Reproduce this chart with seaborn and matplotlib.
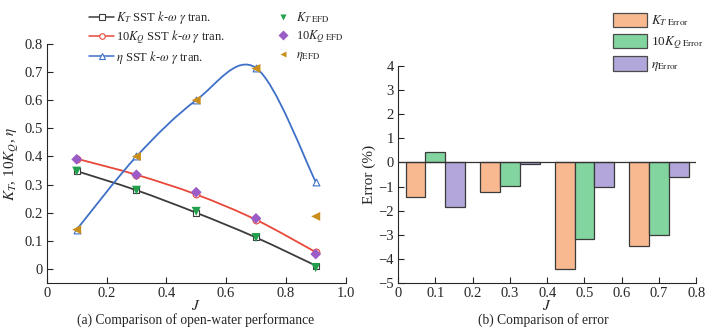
import numpy as np
import pandas as pd
import seaborn as sns
import matplotlib.pyplot as plt
from matplotlib.path import Path
from matplotlib.patches import PathPatch, Patch
from matplotlib.lines import Line2D
from matplotlib.ticker import FuncFormatter

# ---- data ----
J = [0.1, 0.3, 0.5, 0.7, 0.9]
kt_cfd = [0.348, 0.280, 0.200, 0.112, 0.012]
kq_cfd = [0.392, 0.335, 0.265, 0.175, 0.060]
eta_cfd = [0.140, 0.400, 0.600, 0.715, 0.310]
kt_efd = [0.348, 0.280, 0.205, 0.112, 0.005]
kq_efd = [0.390, 0.335, 0.273, 0.180, 0.053]
eta_efd = [0.140, 0.400, 0.600, 0.713, 0.187]

J_err = [0.1, 0.3, 0.5, 0.7]
kt_err = [-1.42, -1.23, -4.43, -3.46]
kq_err = [0.45, -0.97, -3.16, -3.00]
eta_err = [-1.83, -0.08, -1.00, -0.59]

err_labels = [r"$K_{T\ \mathrm{Error}}$", r"10$K_{Q\ \mathrm{Error}}$", r"$\eta_{\mathrm{Error}}$"]
err_colors = ["#f9b990", "#82d59e", "#b2a6da"]

sns.set_style("ticks")
plt.rcParams["font.family"] = ["Liberation Serif", "DejaVu Serif"]
plt.rcParams["mathtext.fontset"] = "stix"
plt.rcParams["font.size"] = 10
plt.rcParams["xtick.direction"] = "in"
plt.rcParams["ytick.direction"] = "in"


def smooth_path(x, y):
    """Catmull-Rom curve through the points, as cubic bezier segments"""
    pts = np.column_stack([x, y])
    ext = np.vstack([pts[0], pts, pts[-1]])
    verts = [pts[0]]
    codes = [Path.MOVETO]
    for i in range(len(pts) - 1):
        p0, p1, p2, p3 = ext[i], ext[i + 1], ext[i + 2], ext[i + 3]
        verts += [p1 + (p2 - p0) / 6, p2 - (p3 - p1) / 6, p2]
        codes += [Path.CURVE4] * 3
    return Path(verts, codes)


fig = plt.figure(figsize=(7.2, 3.33), dpi=100)
ax1 = fig.add_axes([0.065, 0.15, 0.415, 0.718])
ax2 = fig.add_axes([0.553, 0.15, 0.414, 0.652])

# ---- (a) open-water performance ----
c_kt, c_kq, c_eta = "#3c3c3c", "#e8483a", "#3f70c8"
g_kt, p_kq, o_eta = "#22a04c", "#9b5cc8", "#c98f1c"

for yy, c, m in [(kt_cfd, c_kt, "s"), (kq_cfd, c_kq, "o"), (eta_cfd, c_eta, "^")]:
    ax1.add_patch(PathPatch(smooth_path(J, yy), facecolor="none", edgecolor=c, lw=1.3))
    sns.scatterplot(x=J, y=yy, ax=ax1, marker=m, s=24, color="white",
                    edgecolor=c, linewidth=0.8, zorder=3)

sns.scatterplot(x=J, y=kt_efd, ax=ax1, marker="v", s=42, color=g_kt, edgecolor="none", zorder=4)
sns.scatterplot(x=J, y=kq_efd, ax=ax1, marker="D", s=30, color=p_kq, edgecolor="none", zorder=4)
sns.scatterplot(x=J, y=eta_efd, ax=ax1, marker="<", s=42, color=o_eta, edgecolor="none", zorder=4)

ax1.set_xlim(0, 1.0)
ax1.set_ylim(-0.05, 0.8)
ax1.set_xticks(np.arange(0, 1.01, 0.2))
ax1.set_yticks(np.arange(0, 0.81, 0.1))
fmt = FuncFormatter(lambda v, p: "0" if abs(v) < 1e-9 else f"{v:.1f}")
ax1.xaxis.set_major_formatter(fmt)
ax1.yaxis.set_major_formatter(fmt)
ax1.tick_params(length=4, width=0.8, labelsize=10.5, pad=3)
sns.despine(ax=ax1)
ax1.set_xlabel("$J$", fontsize=11, labelpad=-1)
ax1.set_ylabel(r"$K_T$, 10$K_Q$, $\eta$", fontsize=11, labelpad=2)

h_cfd = [Line2D([], [], color=c, marker=m, mfc="white", mec=c, ms=4, lw=1.1, mew=0.8)
         for c, m in [(c_kt, "s"), (c_kq, "o"), (c_eta, "^")]]
fig.legend(h_cfd, [r"$K_T$ SST $k$-$\omega$ $\gamma$ tran.",
                   r"10$K_Q$ SST $k$-$\omega$ $\gamma$ tran.",
                   r"$\eta$ SST $k$-$\omega$ $\gamma$ tran."],
           loc="upper left", bbox_to_anchor=(89 / 720, 1 - 9 / 333), frameon=False,
           borderpad=0, borderaxespad=0, labelspacing=0.2, handlelength=2.0,
           handletextpad=0.15, fontsize=9)

h_efd = [Line2D([], [], ls="none", marker=m, color=c, ms=5, mec="none")
         for c, m in [(g_kt, "v"), (p_kq, "D"), (o_eta, "<")]]
fig.legend(h_efd, [r"$K_{T\ \mathrm{EFD}}$", r"10$K_{Q\ \mathrm{EFD}}$", r"$\eta_{\mathrm{EFD}}$"],
           loc="upper left", bbox_to_anchor=(277 / 720, 1 - 10 / 333), frameon=False,
           borderpad=0, borderaxespad=0, labelspacing=0.3, handlelength=1.0,
           handletextpad=0.5, fontsize=9)

# ---- (b) error ----
df = pd.DataFrame({
    "J": J_err * 3,
    "err": kt_err + kq_err + eta_err,
    "kind": [err_labels[0]] * 4 + [err_labels[1]] * 4 + [err_labels[2]] * 4,
})
sns.barplot(data=df, x="J", y="err", hue="kind", hue_order=err_labels,
            palette=dict(zip(err_labels, err_colors)), native_scale=True, saturation=1,
            errorbar=None, edgecolor="#3a3a3a", linewidth=0.9, legend=False, ax=ax2)
ax2.axhline(0, color="#333333", lw=0.9, zorder=5)
ax2.set_xlim(0, 0.8)
ax2.set_ylim(-5, 4)
ax2.set_xticks(np.arange(0, 0.81, 0.1))
ax2.set_yticks(np.arange(-5, 4.1, 1))
ax2.xaxis.set_major_formatter(fmt)
ax2.yaxis.set_major_formatter(FuncFormatter(lambda v, p: f"{v:.0f}".replace("-", "\u2212")))
ax2.tick_params(length=4, width=0.8, labelsize=10.5, pad=3)
sns.despine(ax=ax2)
ax2.set_xlabel("$J$", fontsize=11, labelpad=-1)
ax2.set_ylabel("Error (%)", fontsize=11, labelpad=2)

h_err = [Patch(facecolor=c, edgecolor="#4a4a4a", lw=0.9) for c in err_colors]
fig.legend(h_err, err_labels, loc="upper left", bbox_to_anchor=(613 / 720, 1 - 13 / 333),
           frameon=False, borderpad=0, borderaxespad=0, labelspacing=0.4,
           handlelength=2.6, handleheight=1.3, handletextpad=0.25, fontsize=9.5)

fig.text(196 / 720, 1 - 320 / 333, "(a) Comparison of open-water performance",
         ha="center", va="center", fontsize=9.8)
fig.text(543 / 720, 1 - 320 / 333, "(b) Comparison of error",
         ha="center", va="center", fontsize=9.8)

fig.savefig("out.png", dpi=100)
